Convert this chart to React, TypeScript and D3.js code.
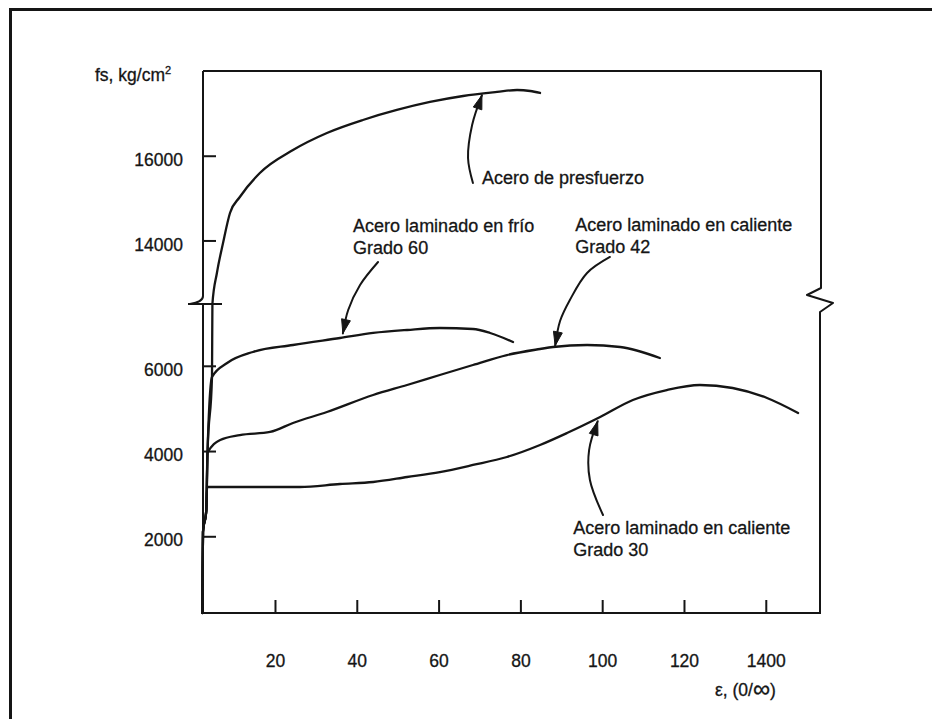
import { useEffect, useRef } from "react";
import * as d3 from "d3";

const W = 932;
const H = 719;

// strain ε (0/oo) vs stress fs (kg/cm2)
const elastic: [number, number][] = [
  [2.2, 200],
  [2.4, 2100],
  [3.2, 2600],
];

const grado30: [number, number][] = [
  ...elastic,
  [3.4, 3156], [15, 3156], [26.1, 3156], [35.9, 3227], [44.0, 3274], [52.3, 3391],
  [60.3, 3508], [68.4, 3673], [76.7, 3860], [84.8, 4142], [91.4, 4423],
  [99.5, 4799], [107.5, 5198], [115.8, 5432], [123.9, 5550], [131.9, 5479],
  [140.3, 5245], [147.9, 4893],
];

const grado42: [number, number][] = [
  ...elastic,
  [3.5, 3954], [6.6, 4259], [11.4, 4376], [18.8, 4447], [24.4, 4658],
  [32.7, 4916], [44.0, 5315], [52.3, 5550], [60.3, 5784], [68.4, 6019],
  [76.7, 6253], [84.8, 6394], [88.0, 6441], [96.3, 6488], [104.4, 6441],
  [114.1, 6183],
];

const grado60: [number, number][] = [
  ...elastic,
  [3.5, 3954], [4.6, 5737], [8.3, 6066], [14.6, 6324], [24.4, 6488],
  [35.9, 6652], [44.0, 6770], [52.3, 6840], [60.3, 6887], [68.4, 6863],
  [72.6, 6770], [78.2, 6559],
];

const presfuerzo: [number, number][] = [
  ...elastic,
  [3.5, 3954], [4.6, 5737], [4.7, 7450], [5.8, 13232], [7.3, 13940],
  [9.0, 14648], [11.4, 15026], [16.3, 15593], [24.4, 16135], [32.7, 16537],
  [41.5, 16844], [49.8, 17080], [57.9, 17269], [66.0, 17410], [74.3, 17505],
  [79.2, 17552], [82.4, 17528], [84.8, 17481],
];

// annotation arrows, tail -> tip
const arrowPresfuerzo: [number, number][] = [[68.4, 15357], [67.2, 15947], [68.2, 16726], [70.6, 17430]];
const arrowGrado60: [number, number][] = [[45.2, 13491], [40.8, 12949], [37.9, 7309], [36.6, 6760]];
const arrowGrado42: [number, number][] = [[101.9, 13610], [96.3, 13232], [92.1, 12594], [89.7, 7051], [88.5, 6470]];
const arrowGrado30: [number, number][] = [[100.2, 2499], [97.0, 3321], [96.8, 4024], [98.9, 4700]];

const labels = [
  { lines: ["Acero de presfuerzo"], at: [70.6, 15474] },
  { lines: ["Acero laminado en frío", "Grado 60"], at: [39.1, 14341] },
  { lines: ["Acero laminado en caliente", "Grado 42"], at: [93.4, 14365] },
  { lines: ["Acero laminado en caliente", "Grado 30"], at: [92.9, 2194] },
];

const xTicks = [20, 40, 60, 80, 100, 120, 140];
const xTickLabels = ["20", "40", "60", "80", "100", "120", "1400"];
const yTicks = [2000, 4000, 6000, 14000, 16000];

export default function App() {
  const svgRef = useRef<SVGSVGElement>(null);

  useEffect(() => {
    if (!svgRef.current) return;
    const svg = d3.select(svgRef.current);
    svg.selectAll("*").remove();

    const ink = "#151515";
    const font = "'Liberation Sans', Arial, Helvetica, sans-serif";
    const fs = "17.5px";

    const x = d3.scaleLinear().domain([2.4, 153.5]).range([203, 821]);
    // broken axis: 7450..12500 collapses onto the break
    const y = d3.scaleLinear().domain([200, 7450, 12500, 18000]).range([613, 304, 304, 71]);

    const x0 = x(2.4), x1 = x(153.5);
    const yb = y(200), yt = y(18000), yk = y(7450);

    // outer frame (left + top visible)
    svg.append("path")
      .attr("d", `M10.5,${H} V9.5 H${W}`)
      .attr("fill", "none").attr("stroke", ink).attr("stroke-width", 3);

    const g = svg.append("g");

    // top edge and right edge with break zigzag
    g.append("path")
      .attr("d", `M${x0},${yt} H${x1} V${yk - 16} L${x1 - 14},${yk - 9} L${x1 + 12},${yk - 1} L${x1 - 1},${yk + 8} V${yb}`)
      .attr("fill", "none").attr("stroke", ink).attr("stroke-width", 2).attr("stroke-linejoin", "round");

    // left axis with break
    g.append("path")
      .attr("d", `M${x0},${yt} V${yk - 8} Q${x0},${yk - 2} ${x0 - 13},${yk} M${x0 - 15},${yk} H${x0 + 19} M${x0},${yk} V${yb}`)
      .attr("fill", "none").attr("stroke", ink).attr("stroke-width", 2);

    // bottom axis line
    g.append("line")
      .attr("x1", x0).attr("x2", x1).attr("y1", yb).attr("y2", yb)
      .attr("stroke", ink).attr("stroke-width", 2);

    // Y axis ticks (inward)
    g.append("g")
      .attr("transform", `translate(${x0},0)`)
      .call(d3.axisLeft(y).tickValues(yTicks).tickSize(-13).tickPadding(20).tickFormat((d) => String(d)))
      .call((a) => {
        a.select(".domain").remove();
        a.selectAll("line").attr("stroke", ink).attr("stroke-width", 2);
        a.selectAll("text")
          .attr("y", 4)
          .attr("fill", ink)
          .attr("stroke", ink)
          .attr("stroke-width", 0.3)
          .attr("font-size", fs)
          .attr("font-family", font);
      });

    // X axis ticks (inward)
    g.append("g")
      .attr("transform", `translate(0,${yb})`)
      .call(d3.axisBottom(x).tickValues(xTicks).tickSize(-13).tickPadding(42)
        .tickFormat((_, i) => xTickLabels[i]))
      .call((a) => {
        a.select(".domain").remove();
        a.selectAll("line").attr("stroke", ink).attr("stroke-width", 2);
        a.selectAll("text")
          .attr("fill", ink)
          .attr("stroke", ink)
          .attr("stroke-width", 0.3)
          .attr("font-size", fs)
          .attr("font-family", font);
      });

    // curves
    const curve = d3.line<[number, number]>()
      .x((d) => x(d[0]))
      .y((d) => y(d[1]))
      .curve(d3.curveMonotoneX);

    [grado30, grado42, grado60, presfuerzo].forEach((s) => {
      g.append("path")
        .attr("d", curve(s))
        .attr("fill", "none")
        .attr("stroke", ink)
        .attr("stroke-width", 2.3)
        .attr("stroke-linejoin", "round")
        .attr("stroke-linecap", "round");
    });

    // annotation arrows
    const arrowLine = d3.line<[number, number]>()
      .x((d) => x(d[0]))
      .y((d) => y(d[1]))
      .curve(d3.curveCatmullRom.alpha(0.5));

    [arrowPresfuerzo, arrowGrado60, arrowGrado42, arrowGrado30].forEach((a) => {
      g.append("path")
        .attr("d", arrowLine(a))
        .attr("fill", "none")
        .attr("stroke", ink)
        .attr("stroke-width", 2)
        .attr("stroke-linecap", "round");
      const tip = [x(a[a.length - 1][0]), y(a[a.length - 1][1])];
      const prev = [x(a[a.length - 2][0]), y(a[a.length - 2][1])];
      const dx = tip[0] - prev[0], dy = tip[1] - prev[1];
      const len = Math.hypot(dx, dy) || 1;
      const ux = dx / len, uy = dy / len;
      const hl = 14, hw = 4.5;
      const bx = tip[0] - ux * hl, by = tip[1] - uy * hl;
      g.append("path")
        .attr("d", `M${tip[0]},${tip[1]} L${bx - uy * hw},${by + ux * hw} L${bx + uy * hw},${by - ux * hw} Z`)
        .attr("fill", ink)
        .attr("stroke", ink)
        .attr("stroke-width", 1)
        .attr("stroke-linejoin", "round");
    });

    // curve labels
    labels.forEach((l) => {
      const t = g.append("text")
        .attr("x", x(l.at[0]))
        .attr("y", y(l.at[1]))
        .attr("fill", ink)
        .attr("stroke", ink)
        .attr("stroke-width", 0.3)
        .attr("font-size", "18px")
        .attr("font-family", font);
      l.lines.forEach((s, i) => {
        t.append("tspan")
          .attr("x", x(l.at[0]))
          .attr("dy", i === 0 ? "0.35em" : 22)
          .text(s);
      });
    });

    // axis titles
    const ty = svg.append("text")
      .attr("x", 95).attr("y", 81)
      .attr("fill", ink).attr("stroke", ink).attr("stroke-width", 0.3)
      .attr("font-size", fs).attr("font-family", font);
    ty.append("tspan").text("fs, kg/cm");
    ty.append("tspan").attr("dy", -7).attr("font-size", "11px").text("2");

    const tx = svg.append("text")
      .attr("x", 715).attr("y", 696)
      .attr("fill", ink).attr("stroke", ink).attr("stroke-width", 0.3)
      .attr("font-size", fs).attr("font-family", font);
    tx.append("tspan").text("ε, (0/");
    tx.append("tspan").attr("font-size", "24px").attr("dy", 1).text("∞");
    tx.append("tspan").attr("dy", -1).text(")");
  }, []);

  return (
    <svg
      ref={svgRef}
      width={W}
      height={H}
      style={{ position: "absolute", left: 0, top: 0, background: "#fff", display: "block" }}
    />
  );
}
